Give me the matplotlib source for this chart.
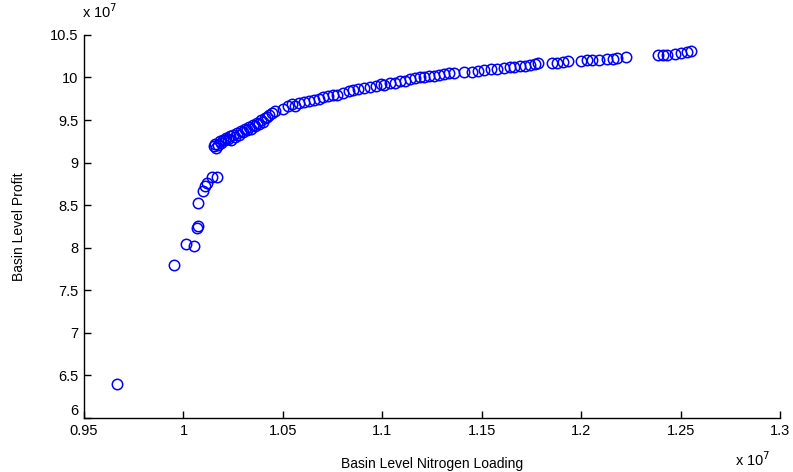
import matplotlib
matplotlib.use('Agg')
import matplotlib.pyplot as plt
from matplotlib.ticker import FuncFormatter

plt.rcParams['font.family'] = ['Liberation Sans', 'DejaVu Sans']

# nitrogen loading and profit, both in units of 1e7
loading = [0.9666, 0.9953, 1.0013, 1.0053, 1.0068, 1.0073, 1.0073, 1.0099, 1.0109, 1.0119, 1.0144, 1.0169,
           1.0155, 1.0160, 1.0165, 1.0175, 1.0185, 1.0190, 1.0200, 1.0210, 1.0215, 1.0225, 1.0235, 1.0240,
           1.0250, 1.0260, 1.0270, 1.0280, 1.0290, 1.0300, 1.0310, 1.0320, 1.0330, 1.0340, 1.0350, 1.0360,
           1.0370, 1.0380, 1.0390, 1.0400, 1.0410, 1.0420, 1.0430, 1.0445, 1.0460,
           1.0500, 1.0525, 1.0545, 1.0560, 1.0580, 1.0605, 1.0630, 1.0655, 1.0680, 1.0700, 1.0725, 1.0750,
           1.0770, 1.0800, 1.0830, 1.0855, 1.0880, 1.0910, 1.0940, 1.0970, 1.0995, 1.1010, 1.1040, 1.1065,
           1.1090, 1.1115, 1.1140, 1.1165, 1.1190, 1.1210, 1.1235, 1.1260, 1.1285, 1.1310, 1.1335, 1.1360,
           1.1410, 1.1450, 1.1480, 1.1510, 1.1545, 1.1575, 1.1610, 1.1640, 1.1660, 1.1690, 1.1720, 1.1745,
           1.1770, 1.1785, 1.1855, 1.1880, 1.1910, 1.1935, 1.2000, 1.2030, 1.2055, 1.2090, 1.2130, 1.2160,
           1.2180, 1.2225, 1.2385, 1.2410, 1.2430, 1.2470, 1.2500, 1.2530, 1.2550]
profit = [6.40, 7.80, 8.04, 8.02, 8.23, 8.25, 8.53, 8.67, 8.72, 8.76, 8.83, 8.83,
          9.19, 9.22, 9.17, 9.21, 9.25, 9.23, 9.27, 9.26, 9.29, 9.28, 9.31, 9.27,
          9.33, 9.30, 9.35, 9.33, 9.37, 9.36, 9.40, 9.38, 9.42, 9.40, 9.44, 9.43,
          9.47, 9.45, 9.50, 9.48, 9.52, 9.54, 9.56, 9.58, 9.61,
          9.63, 9.66, 9.69, 9.67, 9.70, 9.71, 9.72, 9.74, 9.75, 9.77, 9.78, 9.80,
          9.79, 9.82, 9.84, 9.85, 9.86, 9.88, 9.89, 9.90, 9.92, 9.91, 9.93, 9.94,
          9.96, 9.96, 9.98, 9.99, 10.00, 10.01, 10.02, 10.02, 10.03, 10.04, 10.05, 10.05,
          10.07, 10.07, 10.08, 10.09, 10.10, 10.10, 10.11, 10.12, 10.12, 10.13, 10.14, 10.15,
          10.16, 10.17, 10.17, 10.17, 10.18, 10.19, 10.19, 10.20, 10.21, 10.21, 10.22, 10.22,
          10.23, 10.24, 10.26, 10.27, 10.27, 10.28, 10.29, 10.30, 10.31]

x_ticks = [0.95, 1.0, 1.05, 1.1, 1.15, 1.2, 1.25, 1.3]
y_ticks = [6, 6.5, 7, 7.5, 8, 8.5, 9, 9.5, 10, 10.5]

fig = plt.figure(figsize=(7.93, 4.72), dpi=100)
ax = fig.add_axes([0.106, 0.1144, 0.8776, 0.8116])

ax.plot(loading, profit, 'o', markerfacecolor='none', markeredgecolor='#0000ff',
        markersize=7.5, markeredgewidth=1.1, linestyle='none')

ax.set_xlim(0.95, 1.3)
ax.set_ylim(6, 10.5)
ax.set_xticks(x_ticks)
ax.set_yticks(y_ticks)
fmt = FuncFormatter(lambda v, p: '%g' % v)
ax.xaxis.set_major_formatter(fmt)
ax.yaxis.set_major_formatter(fmt)

ax.spines['top'].set_visible(False)
ax.spines['right'].set_visible(False)
ax.spines['left'].set_linewidth(1.0)
ax.spines['bottom'].set_linewidth(1.0)
ax.tick_params(direction='in', length=5, width=1, labelsize=10.5, pad=4)

# matlab puts the lowest y label a bit above the corner
fig.canvas.draw()
ax.get_yticklabels()[0].set_va('bottom')

ax.set_xlabel('Basin Level Nitrogen Loading', fontsize=10, labelpad=14)
ax.set_ylabel('Basin Level Profit', fontsize=10, labelpad=17)

# exponent markers, matlab style
fig.text(0.103, 0.955, r'x 10$^{7}$', fontsize=10.5, ha='left', va='bottom')
fig.text(0.927, 0.006, r'x 10$^{7}$', fontsize=10.5, ha='left', va='bottom')

fig.savefig('out.png', dpi=100)
